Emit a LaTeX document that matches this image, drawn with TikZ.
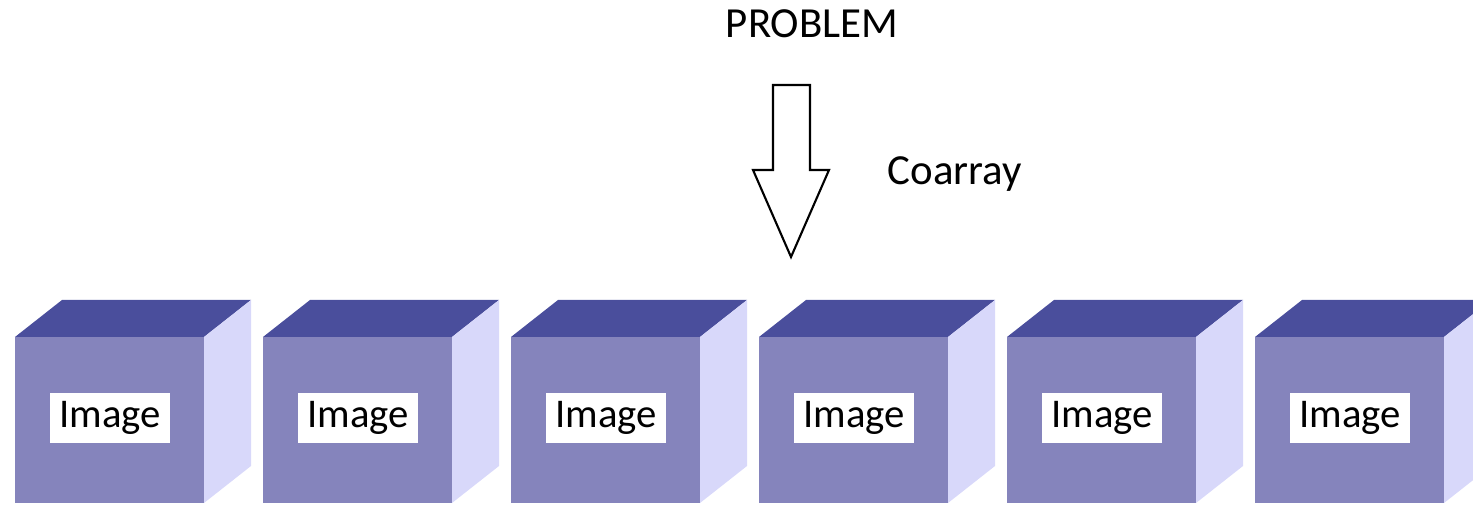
\documentclass[tikz,border=0pt]{standalone}
\usepackage{fontspec}
\setmainfont{Carlito}
\definecolor{cubetop}{RGB}{74,78,156}
\definecolor{cubefront}{RGB}{133,132,188}
\definecolor{cubeside}{RGB}{216,216,250}
\tikzset{
	imglabel/.style={fill=white,inner sep=0pt,minimum width=1.2cm,text height=.35cm,text depth=.15cm,font=\fontsize{11.6}{14}\selectfont},
	toplabel/.style={inner sep=0pt,font=\fontsize{12.2}{14}\selectfont},
}
\begin{document}
\begin{tikzpicture}
	\useasboundingbox (0,0) rectangle (14.73,5.12);
	\clip (0,0) rectangle (14.73,5.12);
	\begin{scope}
		\foreach \i in {1,...,6}{
			\begin{scope}[xshift={(\i-1)*2.48cm}]
				\fill[cubefront] (.15,.09) rectangle (2.04,1.75);
				\fill[cubetop]
					(.15,1.75) -- (.62,2.12) -- (2.51,2.12) -- (2.04,1.75) -- cycle
				;
				\fill[cubeside]
					(2.04,.09) -- (2.51,.46) -- (2.51,2.12) -- (2.04,1.75) -- cycle
				;
				\node[imglabel] (img\i) at (1.10,.94) {Image};
			\end{scope}
		}
	\end{scope}
	\begin{scope}[line width=.6pt,line join=miter]
		\draw
			(7.73,4.27) -- (8.10,4.27) -- (8.10,3.42) -- (8.29,3.42)
			-- (7.91,2.55) -- (7.53,3.42) -- (7.73,3.42) -- cycle
		;
	\end{scope}
	\node[toplabel,anchor=base] (problem) at (8.12,4.74) {PROBLEM};
	\node[toplabel,anchor=base west] (coarray) at (8.87,3.27) {Coarray};
\end{tikzpicture}
\end{document}
